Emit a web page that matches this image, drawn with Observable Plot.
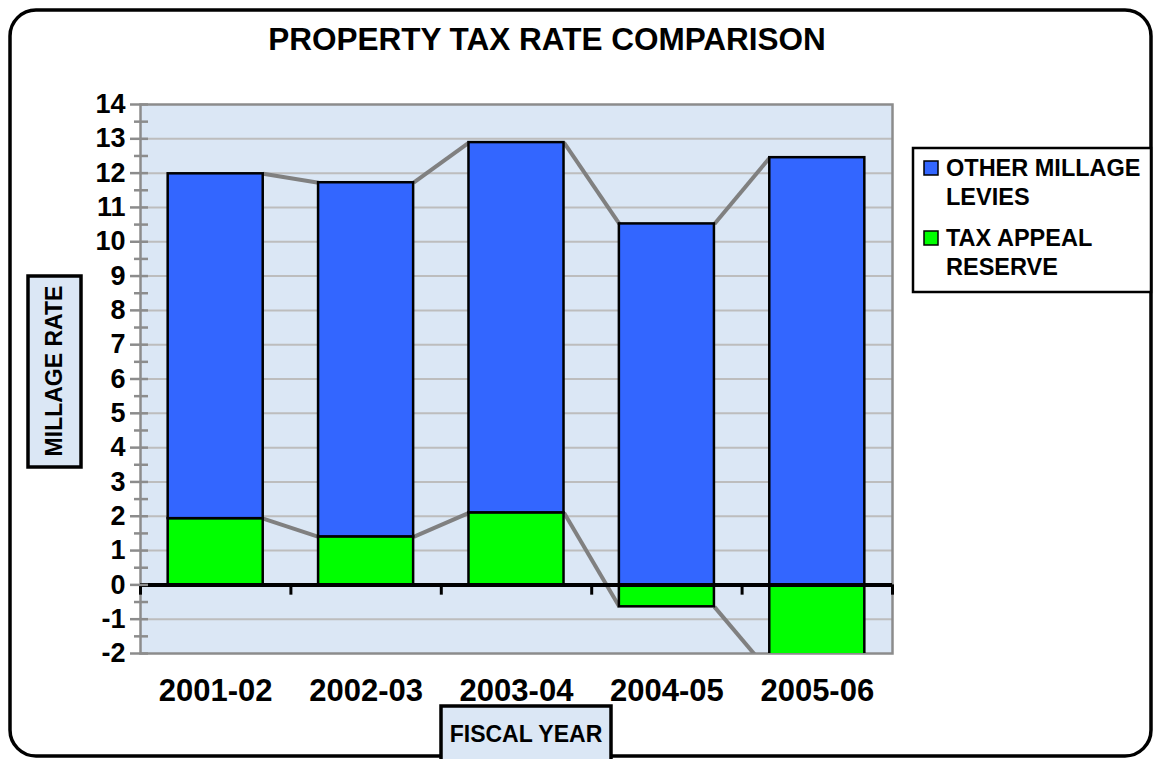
<!DOCTYPE html>
<html>
<head>
<meta charset="utf-8">
<script src="https://cdn.jsdelivr.net/npm/d3@7"></script>
<script src="https://cdn.jsdelivr.net/npm/@observablehq/plot@0.6"></script>
<style>
  html, body { margin: 0; padding: 0; background: white; }
  #chart { width: 1154px; height: 759px; overflow: hidden; }
</style>
</head>
<body>
<div id="chart"></div>
<script>
// ---- data ----
const years = ["2001-02", "2002-03", "2003-04", "2004-05", "2005-06"];
const otherLevies = [10.05, 10.32, 10.79, 10.52, 12.45];
const taxAppealReserve = [1.93, 1.40, 2.10, -0.64, -2.55];
const yTicks = d3.range(-2, 15, 1);
const yMinorTicks = d3.range(-1.5, 14, 1);
const seriesNames = ["OTHER MILLAGE LEVIES", "TAX APPEAL RESERVE"];
const seriesColors = ["#3366ff", "#00ff00"];

// ---- derived tables ----
const halfBar = 0.316;
const rows = [];
years.forEach((yr, i) => {
  const g = taxAppealReserve[i];
  const base = Math.max(g, 0);
  rows.push({i, series: seriesNames[1], y1: 0, y2: g});
  rows.push({i, series: seriesNames[0], y1: base, y2: base + otherLevies[i]});
});
const ends = seriesNames.map(s => rows.filter(r => r.series === s).map(r => r.y2));
const links = [];
ends.forEach(arr => {
  for (let i = 0; i < arr.length - 1; i++) {
    links.push({x1: i + 0.5 + halfBar, y1: arr[i], x2: i + 1.5 - halfBar, y2: arr[i + 1]});
  }
});
const FONT = "'Liberation Sans', Arial, sans-serif";
const PANEL = "#dbe7f5";

const chart = Plot.plot({
  width: 1154,
  height: 759,
  marginLeft: 140,
  marginRight: 262,
  marginTop: 104,
  marginBottom: 106,
  style: {fontFamily: FONT, background: "white", overflow: "visible"},
  x: {domain: [0, 5], axis: null},
  y: {domain: [-2, 14], axis: null},
  color: {domain: seriesNames, range: seriesColors},
  marks: [
    Plot.frame({fill: PANEL, stroke: null}),
    Plot.ruleY(yTicks.filter(t => t > -2 && t < 14 && t !== 0), {stroke: "#bdbdbd", strokeWidth: 2}),
    Plot.frame({stroke: "#8c8c8c", strokeWidth: 2.5}),
    Plot.link(links, {x1: "x1", y1: "y1", x2: "x2", y2: "y2", stroke: "#808080", strokeWidth: 4, clip: true}),
    Plot.rectY(rows, {
      x1: d => d.i + 0.5 - halfBar, x2: d => d.i + 0.5 + halfBar,
      y1: "y1", y2: "y2", fill: "series", stroke: "black", strokeWidth: 2.5, clip: true
    }),
    Plot.ruleY([0], {stroke: "black", strokeWidth: 4}),
    Plot.ruleX(d3.range(0, 6), {y1: 0, y2: -0.3, stroke: "black", strokeWidth: 3}),
    Plot.axisY(yTicks, {tickSize: 18, dx: 8, tickFormat: () => "", stroke: "#8c8c8c", strokeWidth: 2.5}),
    Plot.axisY(yMinorTicks, {tickSize: 14, dx: 8, tickFormat: () => "", stroke: "#8c8c8c", strokeWidth: 2.5}),
    Plot.axisY(yTicks, {tickSize: 0, tickPadding: 15, fontSize: 27, fontWeight: "bold", fill: "black",
      tickFormat: d => String(d)}),
    Plot.axisX(years.map((d, i) => i + 0.5), {
      tickSize: 0, tickPadding: 25, fontSize: 31, fontWeight: "bold", fill: "black",
      tickFormat: d => years[Math.floor(d)]
    })
  ]
});
document.getElementById("chart").appendChild(chart);

// ---- decorations: border, title, legend, axis titles ----
const svg = d3.select(chart);
svg.append("rect")
  .attr("x", 10).attr("y", 10).attr("width", 1141).attr("height", 746)
  .attr("rx", 26).attr("ry", 26)
  .attr("fill", "none").attr("stroke", "black").attr("stroke-width", 3.5);

svg.append("text")
  .attr("x", 547).attr("y", 50)
  .attr("text-anchor", "middle")
  .attr("font-family", FONT).attr("font-weight", "bold").attr("font-size", 31.5)
  .text("PROPERTY TAX RATE COMPARISON");

// legend
const lg = svg.append("g");
lg.append("rect").attr("x", 913).attr("y", 148).attr("width", 238).attr("height", 144)
  .attr("fill", "white").attr("stroke", "black").attr("stroke-width", 2.5);
const legendLines = [["OTHER MILLAGE", "LEVIES"], ["TAX APPEAL", "RESERVE"]];
const legendTop = [161, 231];
legendLines.forEach((lines, k) => {
  lg.append("rect").attr("x", 924).attr("y", legendTop[k]).attr("width", 14).attr("height", 14)
    .attr("fill", seriesColors[k]).attr("stroke", "black").attr("stroke-width", 1.5);
  lines.forEach((t, j) => {
    lg.append("text").attr("x", 946).attr("y", legendTop[k] + 15 + j * 29)
      .attr("text-anchor", "start")
      .attr("font-family", FONT).attr("font-weight", "bold").attr("font-size", 23.5)
      .text(t);
  });
});

// y axis title
const yt = svg.append("g");
yt.append("rect").attr("x", 28).attr("y", 276).attr("width", 53).attr("height", 191)
  .attr("fill", PANEL).attr("stroke", "black").attr("stroke-width", 3.5);
yt.append("text")
  .attr("transform", "translate(62,371) rotate(-90)")
  .attr("text-anchor", "middle")
  .attr("font-family", FONT).attr("font-weight", "bold").attr("font-size", 23)
  .text("MILLAGE RATE");

// x axis title
const xt = svg.append("g");
xt.append("rect").attr("x", 441).attr("y", 706).attr("width", 170).attr("height", 60)
  .attr("fill", PANEL).attr("stroke", "black").attr("stroke-width", 3.5);
xt.append("text")
  .attr("x", 526).attr("y", 742)
  .attr("text-anchor", "middle")
  .attr("font-family", FONT).attr("font-weight", "bold").attr("font-size", 23)
  .text("FISCAL YEAR");
</script>
</body>
</html>
